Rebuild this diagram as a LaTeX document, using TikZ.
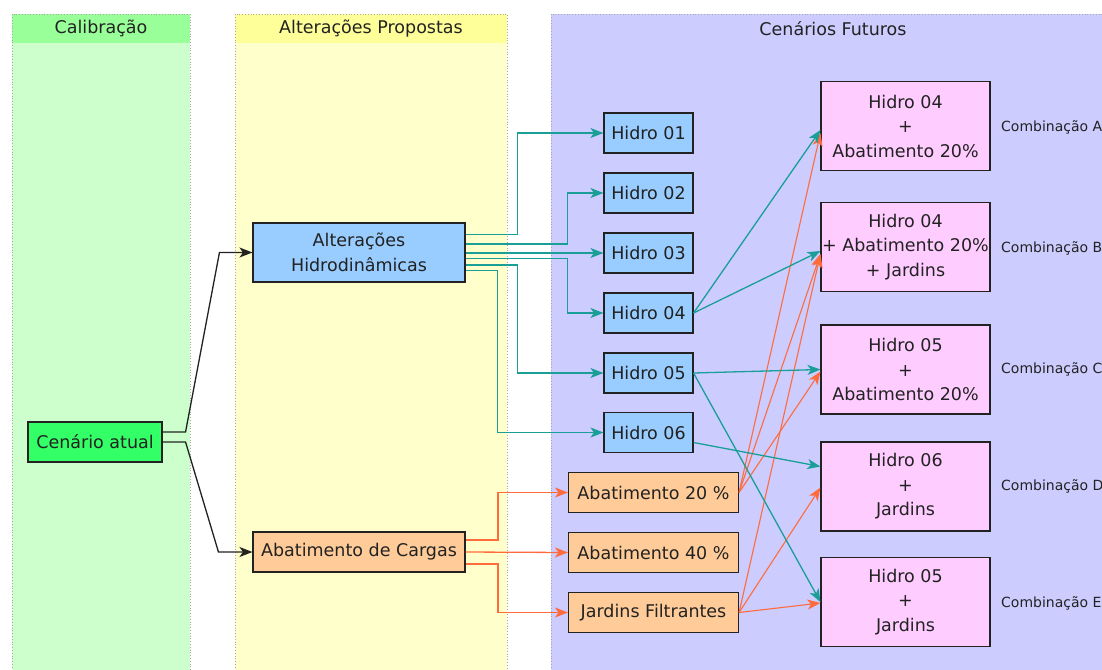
\documentclass[tikz,border=0pt]{standalone}
\usepackage{fontspec}
\setmainfont{DejaVu Sans}
\usetikzlibrary{arrows.meta,calc}
\definecolor{hdgreen}{HTML}{99FF99}
\definecolor{bdgreen}{HTML}{CCFFCC}
\definecolor{hdyellow}{HTML}{FFFF99}
\definecolor{bdyellow}{HTML}{FFFFCC}
\definecolor{lavender}{HTML}{CCCCFF}
\definecolor{nodegreen}{HTML}{33FF66}
\definecolor{nodeblue}{HTML}{99CCFF}
\definecolor{nodeorange}{HTML}{FFCC99}
\definecolor{nodepink}{HTML}{FFCCFF}
\definecolor{tealline}{HTML}{1A9E98}
\definecolor{orangeline}{HTML}{FF6B3D}
\definecolor{txt}{HTML}{222222}
\definecolor{lanebd}{HTML}{A8A8A8}
\begin{document}
\begin{tikzpicture}[x=1pt,y=-1pt,
  box/.style={draw=txt, line width=1.1pt, text=txt, align=center, inner sep=0pt,
    font=\fontsize{17.5}{24.5}\selectfont},
  lanetitle/.style={text=txt, font=\fontsize{17.5}{20}\selectfont, inner sep=0pt},
  combolabel/.style={text=txt, anchor=west, inner sep=0pt, font=\fontsize{14}{16}\selectfont},
  laneborder/.style={draw=lanebd, line width=0.8pt, dotted},
  conn/.style={line width=1.3pt, -{Stealth[length=13pt,width=10pt,inset=3.5pt]}},
  blk/.style={conn, draw=txt},
  tl/.style={conn, draw=tealline},
  ol/.style={conn, draw=orangeline},
]
\useasboundingbox (0,0) rectangle (1102,669);
\clip (0,0) rectangle (1102,669);
\fill[white] (0,0) rectangle (1102,669);

% lanes
\fill[bdgreen] (12,14) rectangle (190,690);
\fill[hdgreen] (12,14) rectangle (190,43);
\draw[laneborder] (12,690) -- (12,14) -- (190,14) -- (190,690);
\node[lanetitle] (t1) at (101,28.5) {Calibração};

\fill[bdyellow] (235,14) rectangle (507,690);
\fill[hdyellow] (235,14) rectangle (507,43);
\draw[laneborder] (235,690) -- (235,14) -- (507,14) -- (507,690);
\node[lanetitle] (t2) at (371,28.5) {Alterações Propostas};

\fill[lavender] (551,14) rectangle (1120,690);
\draw[laneborder] (551,690) -- (551,14) -- (1120,14);
\node[lanetitle] (t3) at (833,28.5) {Cenários Futuros};

% nodes
\node[box, fill=nodegreen, minimum width=134pt, minimum height=40pt] (ca) at (95,442) {Cenário atual};
\node[box, fill=nodeblue, minimum width=212pt, minimum height=59pt] (ah) at (359,252.5) {Alterações\\Hidrodinâmicas};
\node[box, fill=nodeorange, minimum width=212pt, minimum height=40pt] (ac) at (359,552) {Abatimento de Cargas};

\foreach \i/\y in {1/133,2/193,3/253,4/313,5/373,6/432.5}
  \node[box, fill=nodeblue, minimum width=89pt, minimum height=40pt] (h\i) at (648.5,\y) {Hidro 0\i};

\node[box, fill=nodeorange, minimum width=170pt, minimum height=40pt] (a20) at (653.5,492.5) {Abatimento 20 \%};
\node[box, fill=nodeorange, minimum width=170pt, minimum height=40pt] (a40) at (653.5,552.5) {Abatimento 40 \%};
\node[box, fill=nodeorange, minimum width=170pt, minimum height=40pt] (jf) at (653.5,612.5) {Jardins Filtrantes};

\node[box, fill=nodepink, minimum width=169pt, minimum height=89pt] (cA) at (905.5,126) {Hidro 04\\+\\Abatimento 20\%};
\node[box, fill=nodepink, minimum width=169pt, minimum height=89pt] (cB) at (905.5,247) {Hidro 04\\+ Abatimento 20\%\\+ Jardins};
\node[box, fill=nodepink, minimum width=169pt, minimum height=89pt] (cC) at (905.5,369.5) {Hidro 05\\+\\Abatimento 20\%};
\node[box, fill=nodepink, minimum width=169pt, minimum height=89pt] (cD) at (905.5,486.5) {Hidro 06\\+\\Jardins};
\node[box, fill=nodepink, minimum width=169pt, minimum height=89pt] (cE) at (905.5,602) {Hidro 05\\+\\Jardins};

\node[combolabel] (lA) at (1001,127) {Combinação A};
\node[combolabel] (lB) at (1001,248) {Combinação B};
\node[combolabel] (lC) at (1001,369) {Combinação C};
\node[combolabel] (lD) at (1001,486) {Combinação D};
\node[combolabel] (lE) at (1001,603) {Combinação E};

% black connectors
\draw[blk] ([yshift=10pt]ca.east) -- ++(23,0) -- ($(ah.west)+(-33,0)$) -- (ah.west);
\draw[blk] (ca.east) -- ++(23,0) -- ($(ac.west)+(-34,0)$) -- (ac.west);

% teal connectors from Alteracoes Hidrodinamicas
\draw[tl] ([yshift=18pt]ah.east) -| ([xshift=-86pt]h1.west) -- (h1.west);
\draw[tl] ([yshift=8.5pt]ah.east) -| ([xshift=-36pt]h2.west) -- (h2.west);
\draw[tl] (ah.east |- h3.west) -- (h3.west);
\draw[tl] ([yshift=-6pt]ah.east) -| ([xshift=-36pt]h4.west) -- (h4.west);
\draw[tl] ([yshift=-12.5pt]ah.east) -| ([xshift=-86pt]h5.west) -- (h5.west);
\draw[tl] ([yshift=-18pt]ah.east) -| ([xshift=-106pt]h6.west) -- (h6.west);

% orange connectors from Abatimento de Cargas
\draw[ol] ([yshift=12pt]ac.east) -| ([xshift=-70pt]a20.west) -- (a20.west);
\draw[ol] (ac.east) -- (a40.west);
\draw[ol] ([yshift=-12pt]ac.east) -| ([xshift=-70pt]jf.west) -- (jf.west);

% orange connectors to combinations
\draw[ol, line width=1.1pt] (a20.east) -- ([yshift=-7pt]cA.west);
\draw[ol, line width=1.1pt] (a20.east) -- ([yshift=-7pt]cB.west);
\draw[ol, line width=1.1pt] (a20.east) -- ([yshift=-2pt]cC.west);
\draw[ol, line width=1.1pt] (jf.east) -- ([yshift=-7pt]cB.west);
\draw[ol, line width=1.1pt] (jf.east) -- ([yshift=-1pt]cD.west);
\draw[ol, line width=1.1pt] (jf.east) -- ([yshift=-1pt]cE.west);

% teal connectors to combinations
\draw[tl] (h4.east) -- ([yshift=-4pt]cA.west);
\draw[tl] (h4.east) -- ([yshift=-4pt]cB.west);
\draw[tl] (h5.east) -- (cC.west);
\draw[tl] (h5.east) -- (cE.west);
\draw[tl] ([yshift=-10pt]h6.east) -- ([yshift=20pt]cD.west);
\end{tikzpicture}
\end{document}
